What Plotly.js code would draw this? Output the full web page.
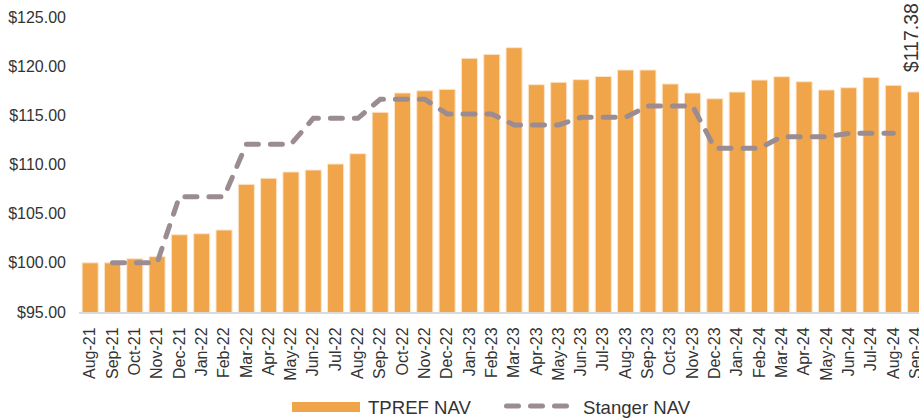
<!DOCTYPE html>
<html>
<head>
<meta charset="utf-8">
<script src="https://cdn.plot.ly/plotly-3.0.1.min.js"></script>
<style>
html,body{margin:0;padding:0;background:#fff;}
#chart{width:919px;height:419px;}
</style>
</head>
<body>
<div id="chart"></div>
<script>
var months = ["Aug-21","Sep-21","Oct-21","Nov-21","Dec-21","Jan-22","Feb-22","Mar-22","Apr-22","May-22",
  "Jun-22","Jul-22","Aug-22","Sep-22","Oct-22","Nov-22","Dec-22","Jan-23","Feb-23","Mar-23",
  "Apr-23","May-23","Jun-23","Jul-23","Aug-23","Sep-23","Oct-23","Nov-23","Dec-23","Jan-24",
  "Feb-24","Mar-24","Apr-24","May-24","Jun-24","Jul-24","Aug-24","Sep-24"];

var tprefNav = [100.00,100.00,100.42,100.63,102.86,102.96,103.34,107.98,108.60,109.24,
  109.44,110.05,111.10,115.31,117.27,117.50,117.64,120.80,121.20,121.88,
  118.12,118.36,118.63,118.95,119.61,119.61,118.19,117.27,116.69,117.37,
  118.59,118.93,118.42,117.58,117.81,118.86,118.05,117.38];

var stangerMonths = months.slice(1, 37);
var stangerNav = [100.00,100.00,100.00,106.73,106.73,106.73,112.05,112.05,112.05,
  114.70,114.70,114.70,116.63,116.63,116.63,115.14,115.14,115.14,
  114.02,114.02,114.02,114.80,114.80,114.80,115.95,115.95,115.95,
  111.65,111.65,111.65,112.83,112.83,112.83,113.17,113.17,113.17];

var yTicks = [95,100,105,110,115,120,125];
var yTickText = yTicks.map(function(v){ return "$" + v.toFixed(2); });

var lastLabel = "$" + tprefNav[tprefNav.length-1].toFixed(2);
var legendNames = ["TPREF NAV", "Stanger NAV"];

var W = 919, H = 419, ML = 79, MR = 0, MT = 17, MB = 107;
function px2x(px){ return (px - ML) / (W - ML - MR); }
function px2y(py){ return (H - MB - py) / (H - MT - MB); }

var orange = "#F0A54A";
var gray = "#9B8C91";
var textColor = "#333333";

var traces = [
  {
    type: "bar", x: months, y: tprefNav, name: legendNames[0],
    marker: {color: orange, line: {color: "#FCE6CB", width: 1}},
    showlegend: false, hoverinfo: "x+y"
  },
  {
    type: "scatter", mode: "lines", x: stangerMonths, y: stangerNav, name: legendNames[1],
    line: {color: gray, width: 5, dash: "12px,12px"},
    showlegend: false, hoverinfo: "x+y"
  }
];

var layout = {
  width: W, height: H,
  margin: {l: ML, r: MR, t: MT, b: MB, pad: 0},
  paper_bgcolor: "#ffffff", plot_bgcolor: "#ffffff",
  font: {family: "Liberation Sans, Arial, sans-serif", color: textColor, size: 16},
  bargap: 0.28,
  showlegend: false,
  xaxis: {
    type: "category", categoryorder: "array", categoryarray: months,
    range: [-0.5, 37.15],
    tickangle: -90, tickfont: {size: 16, color: textColor},
    showgrid: false, zeroline: false,
    showline: true, linecolor: "#D9D9D9", linewidth: 2,
    ticks: "", ticklabelstandoff: 7, fixedrange: true
  },
  yaxis: {
    range: [95, 125], tickvals: yTicks, ticktext: yTickText,
    tickfont: {size: 16, color: textColor},
    showgrid: false, zeroline: false, showline: false,
    ticks: "", ticklabelstandoff: 12, fixedrange: true
  },
  shapes: [
    {type: "rect", xref: "paper", yref: "paper",
     x0: px2x(292), x1: px2x(360), y0: px2y(412), y1: px2y(402),
     fillcolor: orange, line: {width: 0}},
    {type: "line", xref: "paper", yref: "paper",
     x0: px2x(506.5), x1: px2x(567.5), y0: px2y(406), y1: px2y(406),
     line: {color: gray, width: 5, dash: "12px,12px"}}
  ],
  annotations: [
    {text: legendNames[0], xref: "paper", yref: "paper", x: px2x(366), y: px2y(407),
     xanchor: "left", yanchor: "middle", showarrow: false, font: {size: 18.6, color: textColor}},
    {text: legendNames[1], xref: "paper", yref: "paper", x: px2x(581), y: px2y(407),
     xanchor: "left", yanchor: "middle", showarrow: false, font: {size: 18.6, color: textColor}},
    {text: lastLabel, xref: "x", yref: "paper", x: months[months.length-1], y: px2y(74),
     xanchor: "center", yanchor: "bottom", textangle: -90, showarrow: false,
     xshift: -4, font: {size: 19.5, color: textColor}}
  ]
};

Plotly.newPlot("chart", traces, layout, {displayModeBar: false, staticPlot: true}).then(function(){
  document.querySelectorAll(".scatterlayer path.js-line, .shapelayer path").forEach(function(p){
    p.style.strokeLinecap = "round";
  });
});
</script>
</body>
</html>
